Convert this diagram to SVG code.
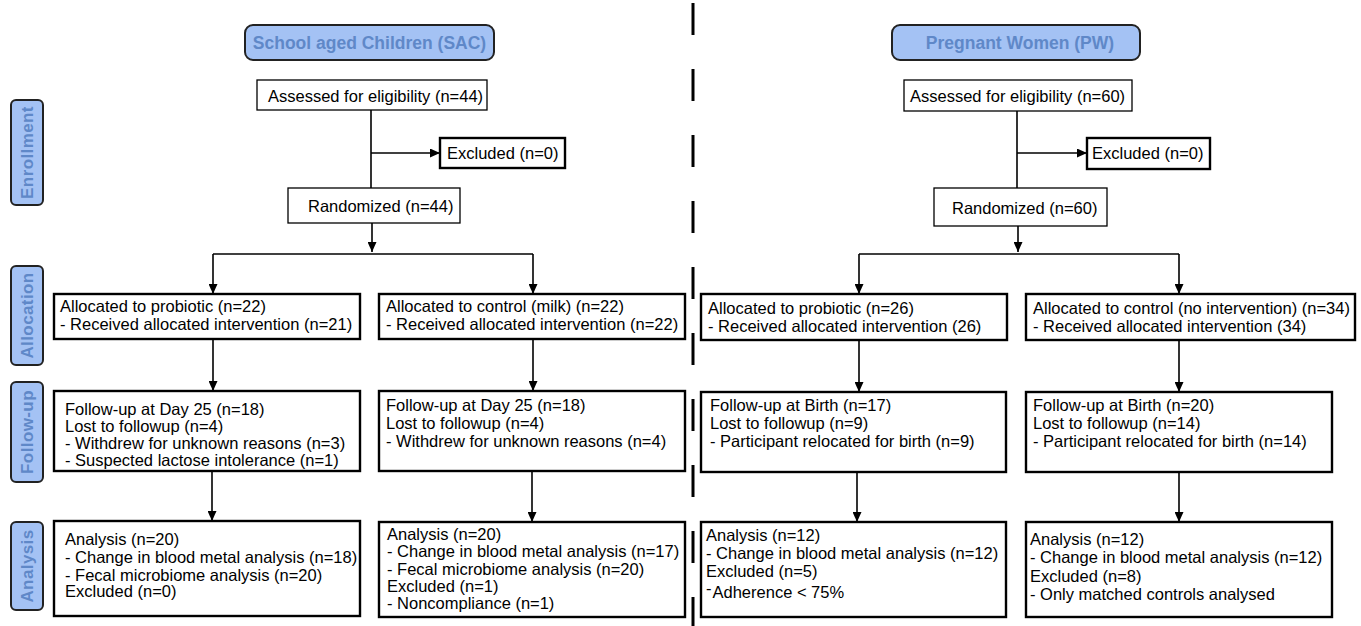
<svg xmlns="http://www.w3.org/2000/svg" width="1361" height="626" viewBox="0 0 1361 626">
<style>
.bg{fill:#ffffff}
.hdr{fill:#a4c2f4;stroke:#222;stroke-width:2}
.hdrt{font-family:"Liberation Sans",Arial,sans-serif;font-weight:bold;font-size:17.5px;fill:#5f88c8;text-anchor:middle}
.lbl{fill:#a4c2f4;stroke:#222;stroke-width:2}
.lblt{font-family:"Liberation Sans",Arial,sans-serif;font-weight:bold;font-size:17px;fill:#5f88c8;text-anchor:middle;letter-spacing:0.4px}
.thin{fill:#fff;stroke:#000;stroke-width:1.3}
.thick{fill:#fff;stroke:#000;stroke-width:2.4}
.t{font-family:"Liberation Sans",Arial,sans-serif;font-size:16.5px;fill:#000}
.c{fill:none;stroke:#000;stroke-width:1.6}
.dash{stroke:#000;stroke-width:3;stroke-dasharray:32 34}
</style>
<defs>
<marker id="ah" markerUnits="userSpaceOnUse" markerWidth="10" markerHeight="9" refX="10" refY="4.5" orient="auto">
<path d="M0,0 L10,4.5 L0,9 z" fill="#000"/>
</marker>
</defs>
<rect class="bg" x="0" y="0" width="1361" height="626"/>

<line class="dash" x1="693" y1="3" x2="693" y2="626"/>

<g id="label-enrollment"><rect class="lbl" x="11" y="100" width="32" height="105" rx="5"/><text class="lblt" transform="translate(33,152.5) rotate(-90)">Enrollment</text></g>
<g id="label-allocation"><rect class="lbl" x="11" y="266" width="32" height="99" rx="5"/><text class="lblt" transform="translate(33,315.5) rotate(-90)">Allocation</text></g>
<g id="label-followup"><rect class="lbl" x="11" y="382" width="32" height="100" rx="5"/><text class="lblt" transform="translate(33,432) rotate(-90)">Follow-up</text></g>
<g id="label-analysis"><rect class="lbl" x="11" y="522" width="32" height="88" rx="5"/><text class="lblt" transform="translate(33,566) rotate(-90)">Analysis</text></g>

<g id="connectors">
<line class="c" x1="371" y1="110" x2="371" y2="188"/>
<line class="c" x1="371" y1="153" x2="440" y2="153" marker-end="url(#ah)"/>
<line class="c" x1="372" y1="223" x2="372" y2="252" marker-end="url(#ah)"/>
<line class="c" x1="213" y1="254" x2="533" y2="254"/>
<line class="c" x1="213" y1="254" x2="213" y2="294" marker-end="url(#ah)"/>
<line class="c" x1="533" y1="254" x2="533" y2="294" marker-end="url(#ah)"/>
<line class="c" x1="213" y1="339" x2="213" y2="391" marker-end="url(#ah)"/>
<line class="c" x1="533" y1="339" x2="533" y2="391" marker-end="url(#ah)"/>
<line class="c" x1="212" y1="472" x2="212" y2="521" marker-end="url(#ah)"/>
<line class="c" x1="532" y1="472" x2="532" y2="522" marker-end="url(#ah)"/>

<line class="c" x1="1017" y1="111" x2="1017" y2="188"/>
<line class="c" x1="1017" y1="153" x2="1087" y2="153" marker-end="url(#ah)"/>
<line class="c" x1="1018" y1="226" x2="1018" y2="252" marker-end="url(#ah)"/>
<line class="c" x1="859" y1="254" x2="1179" y2="254"/>
<line class="c" x1="859" y1="254" x2="859" y2="294" marker-end="url(#ah)"/>
<line class="c" x1="1179" y1="254" x2="1179" y2="294" marker-end="url(#ah)"/>
<line class="c" x1="859" y1="340" x2="859" y2="392" marker-end="url(#ah)"/>
<line class="c" x1="1179" y1="340" x2="1179" y2="392" marker-end="url(#ah)"/>
<line class="c" x1="857" y1="472" x2="857" y2="522" marker-end="url(#ah)"/>
<line class="c" x1="1179" y1="472" x2="1179" y2="522" marker-end="url(#ah)"/>
</g>

<g id="sac-header"><rect class="hdr" x="245" y="25" width="249" height="35" rx="8"/><text class="hdrt" x="369.5" y="48.5">School aged Children (SAC)</text></g>
<g id="sac-assessed"><rect class="thin" x="257" y="80" width="230" height="30"/><text class="t" x="268" y="102">Assessed for eligibility (n=44)</text></g>
<g id="sac-excluded"><rect class="thick" x="440" y="138" width="125" height="30"/><text class="t" x="447" y="159">Excluded (n=0)</text></g>
<g id="sac-randomized"><rect class="thin" x="288" y="188" width="172" height="35"/><text class="t" x="308" y="212">Randomized (n=44)</text></g>

<g id="sac-alloc-probiotic"><rect class="thick" x="54" y="294" width="306" height="45"/>
<text class="t" x="60" y="312">Allocated to probiotic (n=22)</text>
<text class="t" x="60" y="330">- Received allocated intervention (n=21)</text></g>
<g id="sac-alloc-control"><rect class="thick" x="379" y="294" width="306" height="45"/>
<text class="t" x="386" y="312">Allocated to control (milk) (n=22)</text>
<text class="t" x="386" y="330">- Received allocated intervention (n=22)</text></g>

<g id="sac-follow-probiotic"><rect class="thick" x="54" y="391" width="306" height="80"/>
<text class="t" x="65" y="415">Follow-up at Day 25 (n=18)</text>
<text class="t" x="65" y="432">Lost to followup (n=4)</text>
<text class="t" x="65" y="449">- Withdrew for unknown reasons (n=3)</text>
<text class="t" x="65" y="466">- Suspected lactose intolerance (n=1)</text></g>
<g id="sac-follow-control"><rect class="thick" x="379" y="391" width="306" height="80"/>
<text class="t" x="386" y="411">Follow-up at Day 25 (n=18)</text>
<text class="t" x="386" y="429">Lost to followup (n=4)</text>
<text class="t" x="386" y="447">- Withdrew for unknown reasons (n=4)</text></g>

<g id="sac-analysis-probiotic"><rect class="thick" x="54" y="521" width="306" height="95"/>
<text class="t" x="65" y="545">Analysis (n=20)</text>
<text class="t" x="65" y="563">- Change in blood metal analysis (n=18)</text>
<text class="t" x="65" y="581">- Fecal microbiome analysis (n=20)</text>
<text class="t" x="65" y="597">Excluded (n=0)</text></g>
<g id="sac-analysis-control"><rect class="thick" x="379" y="522" width="306" height="95"/>
<text class="t" x="387" y="540">Analysis (n=20)</text>
<text class="t" x="387" y="557">- Change in blood metal analysis (n=17)</text>
<text class="t" x="387" y="575">- Fecal microbiome analysis (n=20)</text>
<text class="t" x="387" y="592">Excluded (n=1)</text>
<text class="t" x="387" y="609">- Noncompliance (n=1)</text></g>

<g id="pw-header"><rect class="hdr" x="892" y="25" width="248" height="35" rx="8"/><text class="hdrt" x="1020" y="48.5">Pregnant Women (PW)</text></g>
<g id="pw-assessed"><rect class="thin" x="904" y="80" width="228" height="31"/><text class="t" x="910" y="102">Assessed for eligibility (n=60)</text></g>
<g id="pw-excluded"><rect class="thick" x="1087" y="138" width="123" height="31"/><text class="t" x="1092" y="159">Excluded (n=0)</text></g>
<g id="pw-randomized"><rect class="thin" x="934" y="188" width="173" height="38"/><text class="t" x="952" y="214">Randomized (n=60)</text></g>

<g id="pw-alloc-probiotic"><rect class="thick" x="701" y="294" width="306" height="46"/>
<text class="t" x="708" y="314">Allocated to probiotic (n=26)</text>
<text class="t" x="708" y="332">- Received allocated intervention (26)</text></g>
<g id="pw-alloc-control"><rect class="thick" x="1026" y="294" width="329" height="46"/>
<text class="t" x="1033" y="314">Allocated to control (no intervention) (n=34)</text>
<text class="t" x="1033" y="332">- Received allocated intervention (34)</text></g>

<g id="pw-follow-probiotic"><rect class="thick" x="701" y="392" width="305" height="80"/>
<text class="t" x="710" y="411">Follow-up at Birth (n=17)</text>
<text class="t" x="710" y="429">Lost to followup (n=9)</text>
<text class="t" x="710" y="447">- Participant relocated for birth (n=9)</text></g>
<g id="pw-follow-control"><rect class="thick" x="1026" y="392" width="306" height="80"/>
<text class="t" x="1033" y="411">Follow-up at Birth (n=20)</text>
<text class="t" x="1033" y="429">Lost to followup (n=14)</text>
<text class="t" x="1033" y="447">- Participant relocated for birth (n=14)</text></g>

<g id="pw-analysis-probiotic"><rect class="thick" x="701" y="522" width="305" height="95"/>
<text class="t" x="706" y="541">Analysis (n=12)</text>
<text class="t" x="706" y="559">- Change in blood metal analysis (n=12)</text>
<text class="t" x="706" y="577">Excluded (n=5)</text>
<text class="t" x="706" y="598"><tspan dy="-4">-</tspan><tspan dy="4" dx="1">Adherence &lt; 75%</tspan></text></g>
<g id="pw-analysis-control"><rect class="thick" x="1026" y="522" width="306" height="95"/>
<text class="t" x="1030" y="545">Analysis (n=12)</text>
<text class="t" x="1030" y="563">- Change in blood metal analysis (n=12)</text>
<text class="t" x="1030" y="582">Excluded (n=8)</text>
<text class="t" x="1030" y="600">- Only matched controls analysed</text></g>
</svg>
